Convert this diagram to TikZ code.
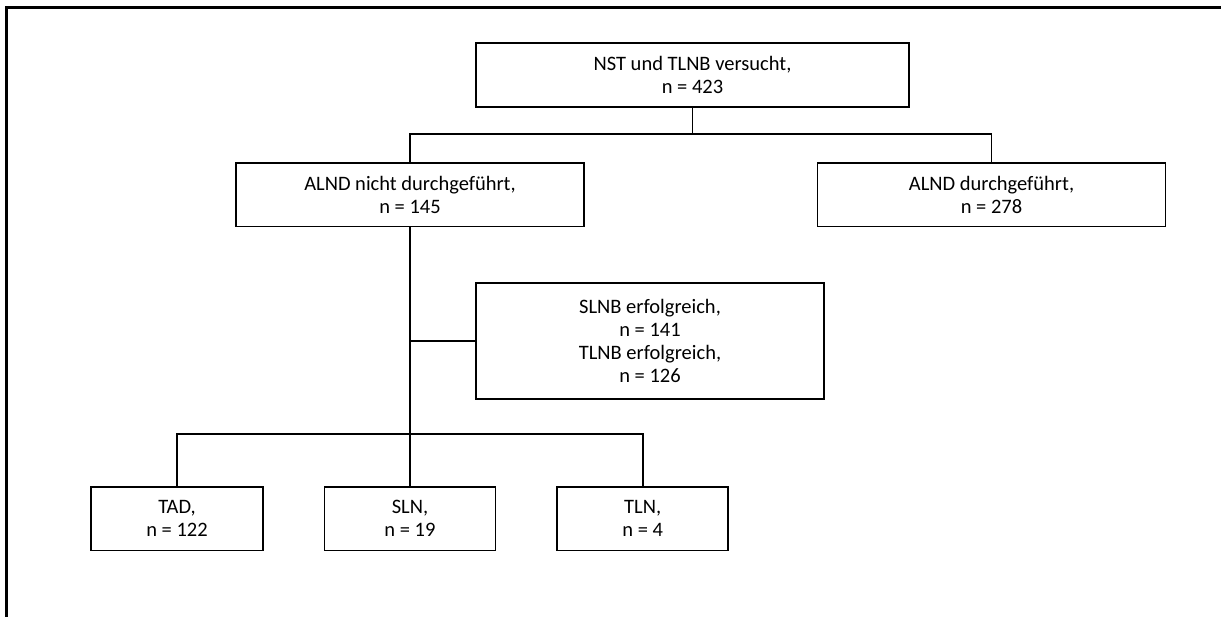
\documentclass[tikz,border=0pt]{standalone}
\usepackage{fontspec}
\setmainfont{Carlito}
\begin{document}
\begin{tikzpicture}[x=1pt,y=-1pt,
  box/.style={draw, line width=1.8pt, align=center, inner sep=0pt,
    font=\fontsize{20.5}{23}\selectfont, minimum height=63.5pt},
  link/.style={line width=1.8pt}]
\useasboundingbox (0,0) rectangle (1221,617);
\draw[line width=3pt] (6,617) -- (6,8) -- (1221,8);
\node[box, minimum width=433pt] (top) at (692.5,75) {NST und TLNB versucht,\\ n = 423};
\node[box, minimum width=348pt] (alndn) at (410,194.7) {ALND nicht durchgeführt,\\ n = 145};
\node[box, minimum width=348pt] (alndd) at (991.5,194.7) {ALND durchgeführt,\\ n = 278};
\node[box, minimum width=348pt, minimum height=115.4pt] (slnb) at (650,341) {SLNB erfolgreich,\\ n = 141\\ TLNB erfolgreich,\\ n = 126};
\node[box, minimum width=172pt] (tad) at (177,518.7) {TAD,\\ n = 122};
\node[box, minimum width=171pt] (sln) at (410,518.7) {SLN,\\ n = 19};
\node[box, minimum width=171pt] (tln) at (642.7,518.7) {TLN,\\ n = 4};
\coordinate (j1) at (692.5,134.3);
\coordinate (j2) at (410,434);
\coordinate (j3) at (410,341);
\draw[link] (top.south) -- (j1);
\draw[link] (alndn.north) |- (j1) -| (alndd.north);
\draw[link] (alndn.south) -- (j2);
\draw[link] (slnb.west) -- (j3);
\draw[link] (tad.north) |- (j2) -| (tln.north);
\draw[link] (j2) -- (sln.north);
\end{tikzpicture}
\end{document}
